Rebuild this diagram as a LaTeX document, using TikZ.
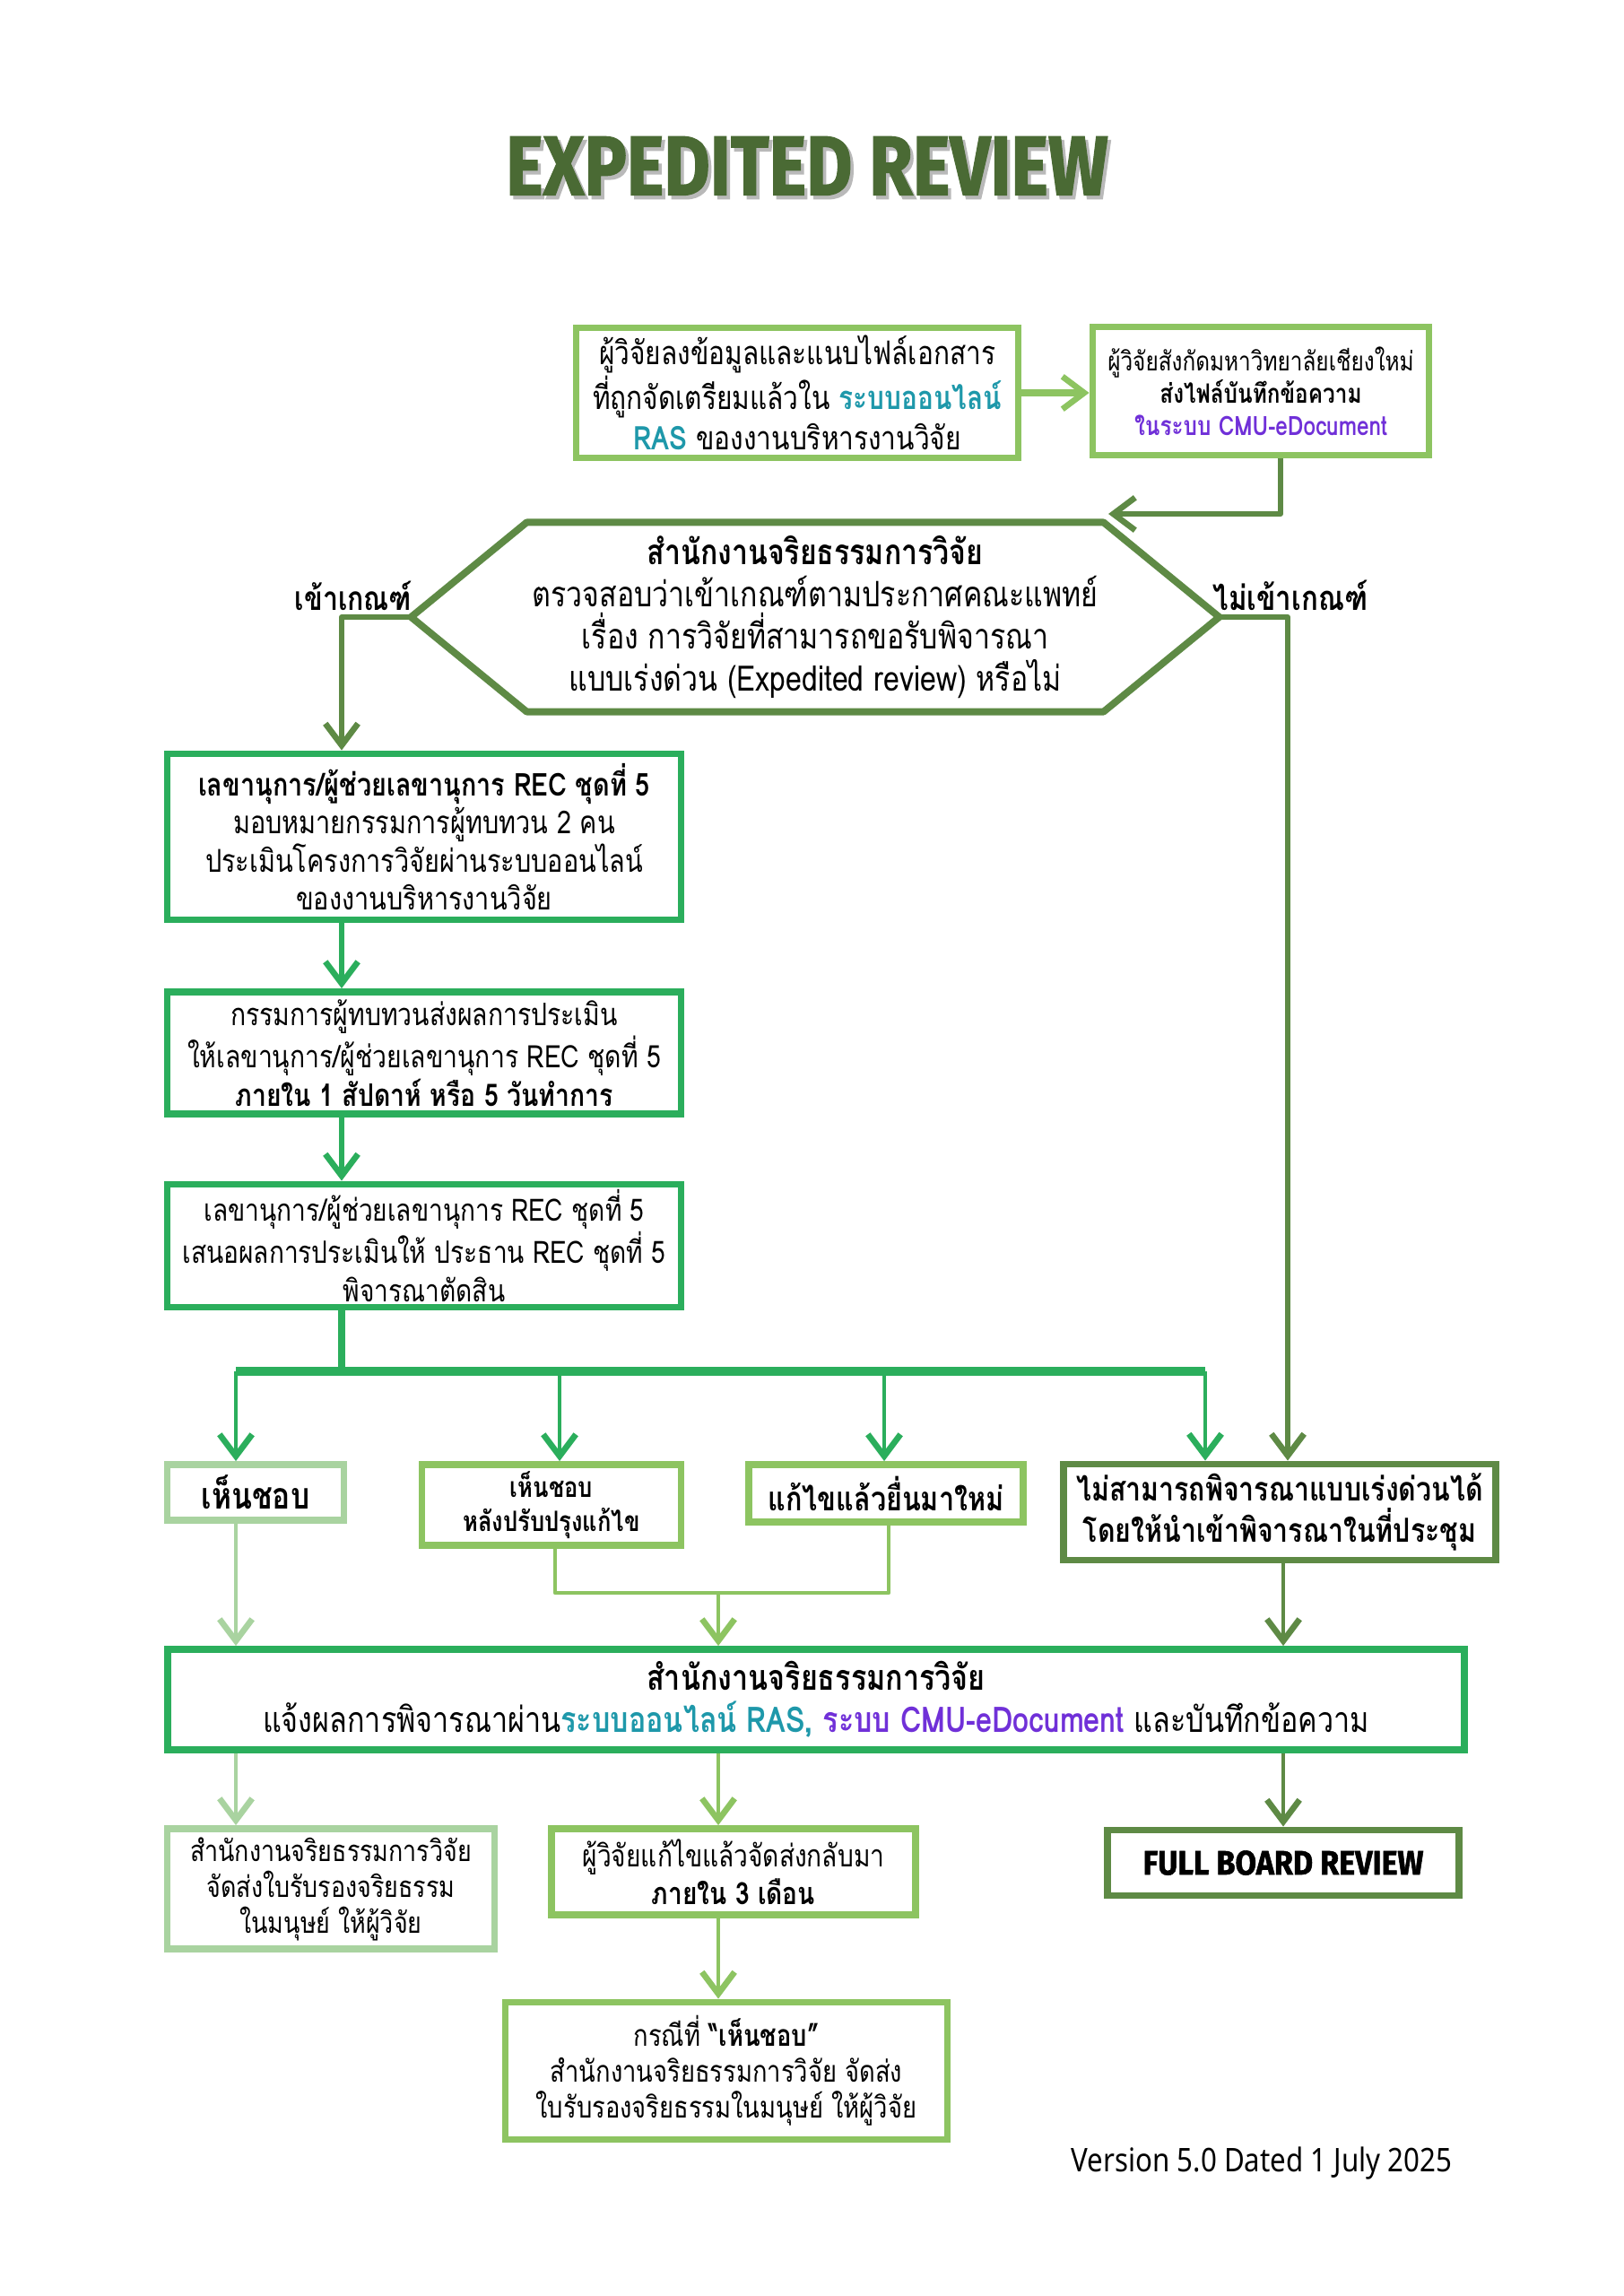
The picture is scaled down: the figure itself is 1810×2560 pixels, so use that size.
\documentclass[tikz,border=0pt]{standalone}
\usepackage{fontspec}
\setmainfont{Noto Sans}
\newfontfamily\thaifont[Script=Thai,FakeStretch=0.82]{Loma}
\newfontfamily\headfont[BoldFeatures={FakeBold=1.5}]{Fira Sans}
\usetikzlibrary{arrows.meta,calc}
\definecolor{vlgreen}{HTML}{A9D3A0}
\definecolor{lgreen}{HTML}{8DC461}
\definecolor{mgreen}{HTML}{2BAE5C}
\definecolor{dgreen}{HTML}{5E8A45}
\definecolor{titlegreen}{HTML}{4A6A34}
\definecolor{rasteal}{HTML}{1E98AA}
\definecolor{cmupurple}{HTML}{7030D8}
\newcommand\shadowtitle[1]{\makebox[0pt][l]{\raisebox{-1.4pt}{\hspace{1.4pt}\textcolor{gray!55}{#1}}}\textcolor{titlegreen}{#1}}
\begin{document}
\begin{tikzpicture}[x=0.0116cm,y=-0.0116cm,
  box/.style={shape=rectangle,fill=white,line width=2.6pt,align=center,inner sep=0pt},
  sz/.style 2 args={minimum width=#1*0.0116cm,minimum height=#2*0.0116cm},
  fs/.style 2 args={font=\thaifont\fontsize{#1}{#2}\selectfont},
  bfs/.style 2 args={font=\thaifont\bfseries\fontsize{#1}{#2}\selectfont},
  conn/.style={line width=2pt,line join=round,-{Straight Barb[length=8pt,width=12pt,line width=2.2pt]}},
  thinconn/.style={conn,line width=1.4pt},
  link/.style={line width=2pt,line join=round}]
\useasboundingbox[fill=white] (0,0) rectangle (1810,2560);

% title
\node[font=\headfont\bfseries\fontsize{31}{31}\selectfont] (title) at (900,187) {\scalebox{0.84}[1]{\shadowtitle{EXPEDITED REVIEW}}};

% submission
\node[box,draw=lgreen,sz={493}{145},fs={12}{14.8}] (submit) at (889,438) {ผู้วิจัยลงข้อมูลและแนบไฟล์เอกสาร\\ที่ถูกจัดเตรียมแล้วใน {\bfseries\color{rasteal}ระบบออนไลน์}\\{\bfseries\color{rasteal}RAS} ของงานบริหารงานวิจัย};
\node[box,draw=lgreen,sz={375}{143},fs={9.8}{11.9}] (memo) at (1406,436) {ผู้วิจัยสังกัดมหาวิทยาลัยเชียงใหม่\\\textbf{ส่งไฟล์บันทึกข้อความ}\\{\bfseries\color{cmupurple}ในระบบ CMU-eDocument}};

% screening
\node[align=center,inner sep=0pt,sz={900}{210},fs={12.9}{15.5}] (screen) at (909,688) {\textbf{สำนักงานจริยธรรมการวิจัย}\\ตรวจสอบว่าเข้าเกณฑ์ตามประกาศคณะแพทย์\\เรื่อง การวิจัยที่สามารถขอรับพิจารณา\\แบบเร่งด่วน (Expedited review) หรือไม่};
\draw[dgreen,line width=2.6pt,line join=round] ([xshift=129*0.0116cm]screen.north west) -- ([xshift=-129*0.0116cm]screen.north east) -- (screen.east) -- ([xshift=-129*0.0116cm]screen.south east) -- ([xshift=129*0.0116cm]screen.south west) -- (screen.west) -- cycle;
\node[bfs={12.2}{15}] (yes) at (394,664) {เข้าเกณฑ์};
\node[bfs={12.6}{15}] (no) at (1439,664) {ไม่เข้าเกณฑ์};

% secretary steps
\node[box,draw=mgreen,sz={573}{185},fs={11.6}{14}] (assign) at (473,933) {\textbf{เลขานุการ/ผู้ช่วยเลขานุการ REC ชุดที่ 5}\\มอบหมายกรรมการผู้ทบทวน 2 คน\\ประเมินโครงการวิจัยผ่านระบบออนไลน์\\ของงานบริหารงานวิจัย};
\node[box,draw=mgreen,sz={573}{136},fs={11.4}{14}] (evaluate) at (473,1174) {กรรมการผู้ทบทวนส่งผลการประเมิน\\ให้เลขานุการ/ผู้ช่วยเลขานุการ REC ชุดที่ 5\\\textbf{ภายใน 1 สัปดาห์ หรือ 5 วันทำการ}};
\node[box,draw=mgreen,sz={573}{137},fs={11.3}{14}] (propose) at (473,1389) {เลขานุการ/ผู้ช่วยเลขานุการ REC ชุดที่ 5\\เสนอผลการประเมินให้ ประธาน REC ชุดที่ 5\\พิจารณาตัดสิน};

% decisions
\node[box,draw=vlgreen,sz={197}{62},bfs={13.5}{15}] (approve) at (285,1664) {เห็นชอบ};
\node[box,draw=lgreen,sz={289}{90},bfs={10.3}{12.5}] (revise) at (615,1678) {เห็นชอบ\\หลังปรับปรุงแก้ไข};
\node[box,draw=lgreen,sz={306}{64},bfs={12.3}{15}] (resubmit) at (988,1665) {แก้ไขแล้วยื่นมาใหม่};
\node[box,draw=dgreen,sz={482}{107},bfs={12.2}{15}] (board) at (1427,1686) {ไม่สามารถพิจารณาแบบเร่งด่วนได้\\โดยให้นำเข้าพิจารณาในที่ประชุม};

% notification
\node[box,draw=mgreen,sz={1446}{112},fs={13}{15.5}] (notify) at (910,1895) {\textbf{สำนักงานจริยธรรมการวิจัย}\\แจ้งผลการพิจารณาผ่าน{\bfseries\color{rasteal}ระบบออนไลน์ RAS,} {\bfseries\color{cmupurple}ระบบ CMU-eDocument} และบันทึกข้อความ};

% outcomes
\node[box,draw=vlgreen,sz={365}{134},fs={10.8}{13.2}] (certify) at (369,2106) {สำนักงานจริยธรรมการวิจัย\\จัดส่งใบรับรองจริยธรรม\\ในมนุษย์ ให้ผู้วิจัย};
\node[box,draw=lgreen,sz={406}{96},fs={11.3}{14}] (return) at (818,2087) {ผู้วิจัยแก้ไขแล้วจัดส่งกลับมา\\\textbf{ภายใน 3 เดือน}};
\node[box,draw=dgreen,sz={392}{73},font=\headfont\bfseries\fontsize{12.5}{14}\selectfont] (full) at (1431,2077) {\scalebox{0.9}[1]{FULL BOARD REVIEW}};
\node[box,draw=lgreen,sz={493}{153},fs={11}{13.2}] (certify2) at (810,2309) {กรณีที่ \textbf{“เห็นชอบ”}\\สำนักงานจริยธรรมการวิจัย จัดส่ง\\ใบรับรองจริยธรรมในมนุษย์ ให้ผู้วิจัย};

\node[anchor=east,font=\fontsize{12}{14}\selectfont] (version) at (1630,2412) {\scalebox{0.86}[1]{Version 5.0 Dated 1 July 2025}};

% turning points
\coordinate (memoturn) at (1428,573);
\coordinate (screenin) at (1236,573);
\coordinate (spine) at (381,688);
\coordinate (noturn) at (1436,688);
\coordinate (busL) at (263,1529);
\coordinate (busR) at (1344,1529);
\coordinate (busA) at (624,1529);
\coordinate (busB) at (986,1529);
\coordinate (joinL) at (619,1776);
\coordinate (joinR) at (991,1776);
\coordinate (joinM) at (801,1776);

% connectors
\draw[conn,lgreen,line width=2.6pt] (submit.east) -- (submit.east -| memo.west);
\draw[conn,dgreen] (memo.south -| memoturn) -- (memoturn) -- (screenin);
\draw[conn,dgreen] (screen.west) -- (spine) -- (spine |- assign.north);
\draw[conn,dgreen] (screen.east) -- (noturn) -- (noturn |- board.north);
\draw[conn,mgreen] (assign.south -| spine) -- (spine |- evaluate.north);
\draw[conn,mgreen] (evaluate.south -| spine) -- (spine |- propose.north);
\draw[link,mgreen,line width=2.6pt] (propose.south -| spine) -- (spine |- busL);
\draw[link,mgreen,line width=3.3pt] (busL) -- (busR);
\draw[thinconn,mgreen] (busL) -- (busL |- approve.north);
\draw[thinconn,mgreen] (busA) -- (busA |- revise.north);
\draw[thinconn,mgreen] (busB) -- (busB |- resubmit.north);
\draw[thinconn,mgreen] (busR) -- (busR |- board.north);
\draw[thinconn,vlgreen] (approve.south -| busL) -- (busL |- notify.north);
\draw[link,lgreen,line width=1.4pt] (revise.south -| joinL) -- (joinL) -- (joinR) -- (resubmit.south -| joinR);
\draw[thinconn,lgreen] (joinM) -- (joinM |- notify.north);
\draw[thinconn,dgreen] (board.south -| full) -- (full |- notify.north);
\draw[thinconn,vlgreen] (notify.south -| busL) -- (busL |- certify.north);
\draw[thinconn,lgreen] (notify.south -| joinM) -- (joinM |- return.north);
\draw[thinconn,dgreen] (notify.south -| full) -- (full.north);
\draw[thinconn,lgreen] (return.south -| joinM) -- (joinM |- certify2.north);
\end{tikzpicture}
\end{document}
